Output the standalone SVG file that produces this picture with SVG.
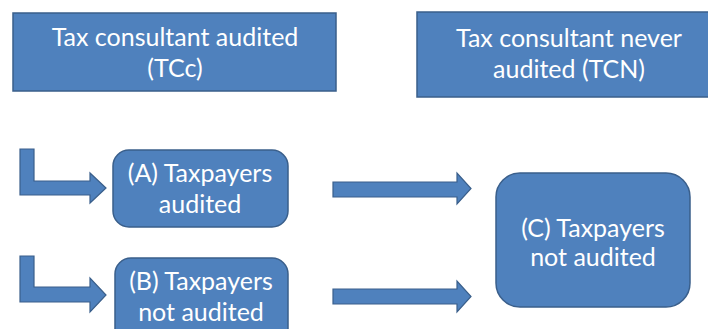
<svg xmlns="http://www.w3.org/2000/svg" width="708" height="329" viewBox="0 0 708 329">
<style>
.box{fill:#4F81BD;stroke:#3A5F8B;stroke-width:1.5}
.arr{fill:#4F81BD;stroke:#3A5F8B;stroke-width:1.2;stroke-linejoin:miter}
.t{font-family:Lato,"Open Sans",sans-serif;font-size:25px;fill:#FFFFFF;text-anchor:middle}
</style>
<rect width="708" height="329" fill="#FFFFFF"/>
<g id="tcc">
<rect class="box" x="13" y="13" width="323" height="78"/>
<text class="t" x="175" y="46">Tax consultant audited</text>
<text class="t" x="175" y="77">(TCc)</text>
</g>
<g id="tcn">
<rect class="box" x="417" y="12" width="300" height="85"/>
<text class="t" x="569" y="47">Tax consultant never</text>
<text class="t" x="569" y="78">audited (TCN)</text>
</g>
<g id="a">
<rect class="box" x="113" y="150" width="175" height="77" rx="16"/>
<text class="t" x="200" y="182">(A) Taxpayers</text>
<text class="t" x="200" y="213">audited</text>
</g>
<g id="b">
<rect class="box" x="115" y="258" width="173" height="90" rx="16"/>
<text class="t" x="201" y="290">(B) Taxpayers</text>
<text class="t" x="201" y="321">not audited</text>
</g>
<g id="c">
<rect class="box" x="496" y="173" width="194" height="134" rx="24"/>
<text class="t" x="593" y="237">(C) Taxpayers</text>
<text class="t" x="593" y="266">not audited</text>
</g>
<g id="connectors">
<polygon class="arr" points="20,149 34,149 34,181 90,181 90,173 106,188 90,203 90,195 20,195"/>
<polygon class="arr" points="20,256 34,256 34,287 90,287 90,278 106,295 90,312 90,302 20,302"/>
<polygon class="arr" points="333,182 457,182 457,173 471,188.5 457,204 457,197 333,197"/>
<polygon class="arr" points="333,289 457,289 457,281 471,296.5 457,312 457,304 333,304"/>
</g>
</svg>
